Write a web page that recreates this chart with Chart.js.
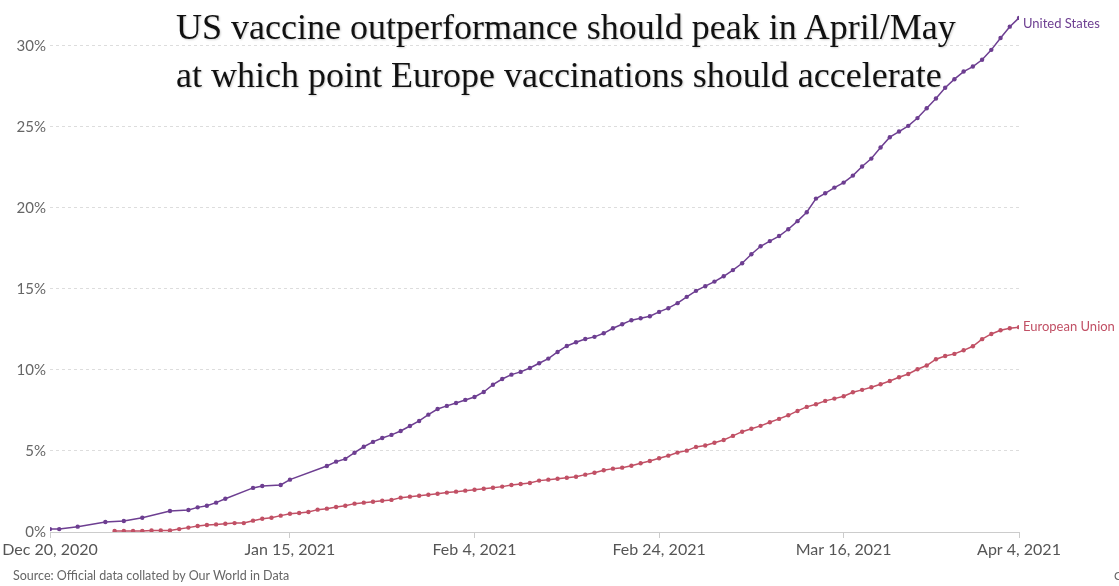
<!DOCTYPE html>
<html>
<head>
<meta charset="utf-8">
<script src="https://cdn.jsdelivr.net/npm/chart.js@4/dist/chart.umd.min.js"></script>
<style>
  body { margin: 0; background: #fff; }
  #wrap { position: relative; width: 1119px; height: 586px; overflow: hidden; }
  .title { position: absolute; left: 176px; font-family: "Liberation Serif", "Times New Roman", serif;
    font-size: 36px; line-height: 48px; color: #111; white-space: nowrap;
    text-shadow: 1px 1px 2px rgba(0,0,0,0.2); }
  .source { position: absolute; left: 13px; top: 568px; font-family: Lato, sans-serif;
    font-size: 12.5px; color: #666; white-space: nowrap; }
  .cc { position: absolute; left: 1114px; top: 568px; font-family: Lato, sans-serif;
    font-size: 12px; color: #666; white-space: nowrap; }
</style>
</head>
<body>
<div id="wrap">
  <canvas id="chart" width="1119" height="586"></canvas>
  <div class="title" style="top:3px">US vaccine outperformance should peak in April/May<br>at which point Europe vaccinations should accelerate</div>
  <div class="source">Source: Official data collated by Our World in Data</div>
  <div class="cc">CC BY</div>
</div>
<script>
// data: days since Dec 20, 2020 -> share of population vaccinated (%)
const tickDays = [0, 26, 46, 66, 86, 105]
const tickLabels = ['Dec 20, 2020', 'Jan 15, 2021', 'Feb 4, 2021', 'Feb 24, 2021', 'Mar 16, 2021', 'Apr 4, 2021']

const usDays = [0, 1, 3, 6, 8, 10, 13, 15, 16, 17, 18, 19, 22, 23, 25, 26,
  30, 31, 32, 33, 34, 35, 36, 37, 38, 39, 40, 41, 42, 43, 44, 45, 46, 47, 48, 49,
  50, 51, 52, 53, 54, 55, 56, 57, 58, 59, 60, 61, 62, 63, 64, 65, 66, 67, 68, 69,
  70, 71, 72, 73, 74, 75, 76, 77, 78, 79, 80, 81, 82, 83, 84, 85, 86, 87, 88, 89,
  90, 91, 92, 93, 94, 95, 96, 97, 98, 99, 100, 101, 102, 103, 104, 105]
const usValues = [0.18, 0.18, 0.33, 0.62, 0.68, 0.88, 1.30, 1.36, 1.52, 1.62, 1.81, 2.05, 2.72, 2.84, 2.90, 3.23,
  4.07, 4.34, 4.51, 4.89, 5.26, 5.56, 5.80, 5.99, 6.23, 6.54, 6.85, 7.24, 7.59, 7.78, 7.96, 8.15, 8.33, 8.64, 9.09, 9.44,
  9.71, 9.88, 10.12, 10.41, 10.70, 11.11, 11.48, 11.71, 11.91, 12.04, 12.26, 12.57, 12.82, 13.07, 13.19, 13.31, 13.58, 13.81, 14.12, 14.51,
  14.88, 15.17, 15.45, 15.78, 16.16, 16.58, 17.14, 17.63, 17.95, 18.26, 18.68, 19.18, 19.73, 20.57, 20.90, 21.25, 21.56, 21.99, 22.55, 23.04,
  23.72, 24.36, 24.71, 25.06, 25.54, 26.15, 26.75, 27.41, 27.94, 28.41, 28.72, 29.14, 29.75, 30.48, 31.18, 31.72]

const euStartDay = 7
const euValues = [0.06, 0.06, 0.06, 0.06, 0.10, 0.10, 0.10, 0.18, 0.27, 0.37,
  0.43, 0.47, 0.51, 0.55, 0.55, 0.70, 0.82, 0.88, 1.01, 1.13,
  1.17, 1.23, 1.38, 1.44, 1.54, 1.62, 1.75, 1.81, 1.87, 1.93,
  1.98, 2.12, 2.18, 2.24, 2.30, 2.36, 2.43, 2.49, 2.55, 2.61,
  2.67, 2.73, 2.80, 2.90, 2.96, 3.02, 3.17, 3.23, 3.29, 3.35,
  3.41, 3.54, 3.66, 3.81, 3.91, 3.97, 4.09, 4.24, 4.38, 4.55,
  4.71, 4.90, 5.02, 5.25, 5.34, 5.51, 5.68, 5.93, 6.19, 6.37,
  6.55, 6.77, 6.98, 7.20, 7.47, 7.72, 7.88, 8.09, 8.23, 8.38,
  8.62, 8.77, 8.93, 9.12, 9.32, 9.55, 9.75, 10.04, 10.27, 10.66,
  10.86, 10.99, 11.21, 11.46, 11.90, 12.22, 12.45, 12.57, 12.64]

const yTicks = [0, 5, 10, 15, 20, 25, 30]

const usColor = '#6D3E91'
const euColor = '#C15065'

const usPoints = usDays.map((d, i) => ({ x: d, y: usValues[i] }))
const euPoints = euValues.map((v, i) => ({ x: euStartDay + i, y: v }))

// end-of-line labels
const endLabels = {
  id: 'endLabels',
  afterDatasetsDraw(chart) {
    const ctx = chart.ctx
    ctx.save()
    ctx.font = '13px Lato'
    ctx.textBaseline = 'middle'
    chart.data.datasets.forEach((ds, i) => {
      const pts = chart.getDatasetMeta(i).data
      const last = pts[pts.length - 1]
      ctx.fillStyle = ds.borderColor
      ctx.fillText(ds.label, last.x + 4, last.y + (i === 0 ? 6 : 0))
    })
    ctx.restore()
  }
}

const lineDs = (label, data, color) => ({
  label: label,
  data: data,
  borderColor: color,
  backgroundColor: color,
  borderWidth: 1.5,
  pointRadius: 2.2,
  pointBorderWidth: 0,
  tension: 0,
})

new Chart(document.getElementById('chart'), {
  type: 'line',
  data: {
    datasets: [
      lineDs('United States', usPoints, usColor),
      lineDs('European Union', euPoints, euColor),
    ],
  },
  options: {
    responsive: false,
    animation: false,
    devicePixelRatio: 1,
    layout: { padding: { top: 15, right: 100, left: 0, bottom: 0 } },
    plugins: { legend: { display: false }, tooltip: { enabled: false } },
    scales: {
      x: {
        type: 'linear',
        min: 0,
        max: 105,
        afterBuildTicks: (s) => { s.ticks = tickDays.map(v => ({ value: v })) },
        afterFit: (s) => { s.height = 54 },
        grid: { drawOnChartArea: false, drawTicks: true, tickLength: 6, color: '#ccc' },
        border: { display: true, color: '#ccc', width: 1 },
        ticks: {
          autoSkip: false,
          maxRotation: 0,
          padding: 2,
          color: '#555',
          font: { family: 'Lato', size: 16 },
          callback: (v) => tickLabels[tickDays.indexOf(v)],
        },
      },
      y: {
        min: 0,
        max: 31.9,
        afterBuildTicks: (s) => { s.ticks = yTicks.map(v => ({ value: v })) },
        afterFit: (s) => { s.width = 50 },
        grid: {
          drawTicks: false,
          color: (c) => c.tick && c.tick.value === 0 ? 'rgba(0,0,0,0)' : '#ddd',
        },
        border: { display: false, dash: [3, 3] },
        ticks: {
          padding: 4,
          color: '#666',
          font: { family: 'Lato', size: 15 },
          callback: (v) => v + '%',
        },
      },
    },
  },
  plugins: [endLabels],
})
</script>
</body>
</html>
